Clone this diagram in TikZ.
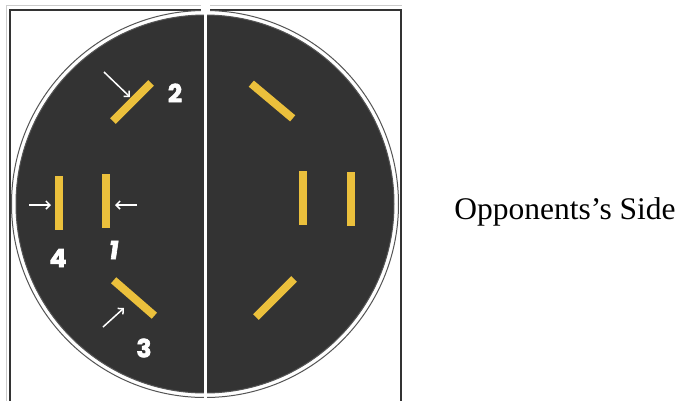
\documentclass[tikz,border=0pt]{standalone}
\usepackage{fontspec}
\setmainfont{Liberation Serif}
\newfontfamily\labfont{Poppins}[BoldFeatures={FakeBold=2.5}]
\usetikzlibrary{arrows.meta}
\definecolor{court}{HTML}{333333}
\definecolor{tape}{HTML}{EBC03C}
\definecolor{rim}{HTML}{555555}
\begin{document}
\begin{tikzpicture}[x=1pt,y=1pt,
  bar/.style={rectangle, fill=tape, draw=none, minimum width=54pt, minimum height=8pt, inner sep=0pt},
  arr/.style={draw=white, line width=1.5pt, -{Straight Barb[length=4pt,width=8pt]}},
  lab/.style={text=white, font=\labfont\bfseries\fontsize{25}{25}\selectfont, inner sep=0pt},
  rimline/.style={draw=rim, line width=1pt}]
\useasboundingbox (0,0) rectangle (681,-400);
\fill[white] (0,0) rectangle (681,-400);
% frame
\draw[gray!40, line width=0.8pt] (6,-402) -- (6,-5) -- (402,-5);
\draw[black!80, line width=2pt] (10,-402) -- (10,-10) -- (401,-10) -- (401,-402);
% court circle
\draw[rimline, fill=white] (205,-204) circle (193.5);
\draw[rimline, fill=court] (205,-204) circle (189);
% centre line
\fill[white] (201,0) rectangle (210,-14);
\fill[white] (203.5,0) rectangle (206.8,-400);
% our side bars
\node[bar, rotate=90] (b4) at (59,-203) {};
\node[bar, rotate=90] (b1) at (106,-200.5) {};
\node[bar, rotate=45] (b2) at (132,-102) {};
\node[bar, rotate=-41] (b3) at (134,-298) {};
% opponents' side bars
\node[bar, rotate=90] (o1) at (303,-198) {};
\node[bar, rotate=90] (o4) at (351,-199) {};
\node[bar, rotate=-40] (o2) at (272,-101) {};
\node[bar, rotate=45] (o3) at (275,-298) {};
% arrows
\coordinate (s2) at (104,-72);  \coordinate (e2) at (130,-97);
\coordinate (s4) at (29,-205);  \coordinate (e4) at (51,-205);
\coordinate (s1) at (137,-205); \coordinate (e1) at (115,-205);
\coordinate (s3) at (103,-327); \coordinate (e3) at (124,-308);
\draw[arr] (s2) -- (e2);
\draw[arr] (s4) -- (e4);
\draw[arr] (s1) -- (e1);
\draw[arr] (s3) -- (e3);
% labels
\node[lab] (l2) at (175,-93) {2};
\node[lab] (l4) at (58,-258) {4};
\node[lab, xslant=0.15] (l1) at (114,-250) {1};
\node[lab] (l3) at (144,-348) {3};
% caption
\node[font=\fontsize{31.5}{31.5}\selectfont, inner sep=0pt, anchor=base] (cap) at (565,-219) {Opponents’s Side};
\end{tikzpicture}
\end{document}
